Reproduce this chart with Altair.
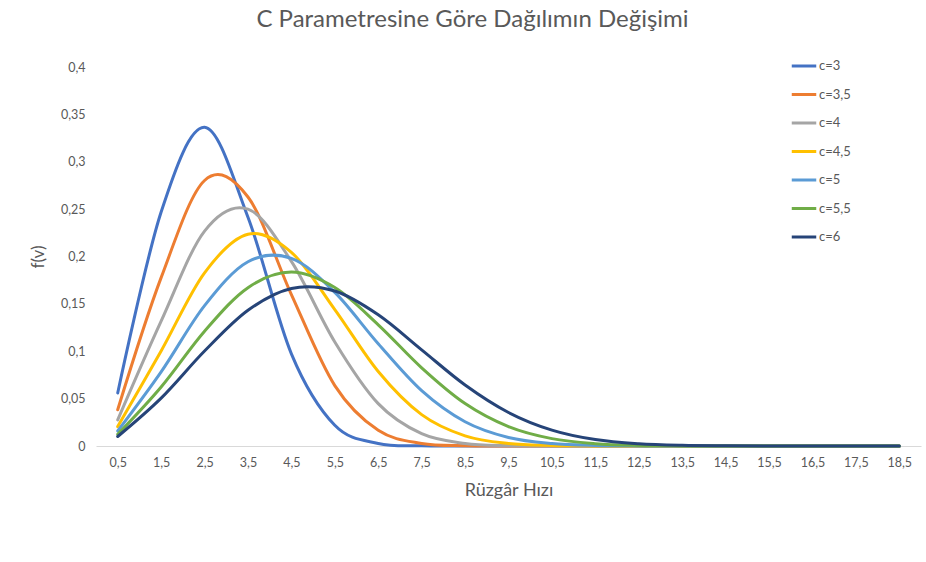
import altair as alt
import pandas as pd

# Wind speed categories (m/s)
speeds = [0.5, 1.5, 2.5, 3.5, 4.5, 5.5, 6.5, 7.5, 8.5, 9.5,
          10.5, 11.5, 12.5, 13.5, 14.5, 15.5, 16.5, 17.5, 18.5]

series_names = ["c=3", "c=3,5", "c=4", "c=4,5", "c=5", "c=5,5", "c=6"]
series_colors = ["#4472C4", "#ED7D31", "#A5A5A5", "#FFC000",
                 "#5B9BD5", "#70AD47", "#264478"]

# f(v) values per series
f_c3 = [0.0560, 0.2469, 0.3363, 0.2414, 0.0973, 0.0219, 0.0027, 0.0002,
        0.0, 0.0, 0.0, 0.0, 0.0, 0.0, 0.0, 0.0, 0.0, 0.0, 0.0]
f_c35 = [0.0383, 0.1777, 0.2802, 0.2628, 0.1598, 0.0637, 0.0165, 0.0027,
         0.0003, 0.0, 0.0, 0.0, 0.0, 0.0, 0.0, 0.0, 0.0, 0.0, 0.0]
f_c4 = [0.0275, 0.1317, 0.2268, 0.2500, 0.1948, 0.1098, 0.0447, 0.0130,
        0.0027, 0.0004, 0.0, 0.0, 0.0, 0.0, 0.0, 0.0, 0.0, 0.0, 0.0]
f_c45 = [0.0205, 0.1003, 0.1828, 0.2235, 0.2044, 0.1440, 0.0786, 0.0331,
         0.0107, 0.0026, 0.0005, 0.0001, 0.0, 0.0, 0.0, 0.0, 0.0, 0.0, 0.0]
f_c5 = [0.0158, 0.0782, 0.1481, 0.1944, 0.1980, 0.1621, 0.1079, 0.0584,
        0.0256, 0.0090, 0.0026, 0.0006, 0.0001, 0.0, 0.0, 0.0, 0.0, 0.0, 0.0]
f_c55 = [0.0124, 0.0623, 0.1212, 0.1671, 0.1836, 0.1672, 0.1279, 0.0825,
         0.0448, 0.0205, 0.0078, 0.0025, 0.0006, 0.0001, 0.0, 0.0, 0.0, 0.0, 0.0]
f_c6 = [0.0100, 0.0505, 0.1002, 0.1432, 0.1663, 0.1636, 0.1385, 0.1015,
        0.0644, 0.0354, 0.0168, 0.0068, 0.0024, 0.0007, 0.0002, 0.0, 0.0, 0.0, 0.0]

all_series = [f_c3, f_c35, f_c4, f_c45, f_c5, f_c55, f_c6]

rows = []
for name, values in zip(series_names, all_series):
    for v, f in zip(speeds, values):
        rows.append({"v": v, "f": f, "seri": name})
df = pd.DataFrame(rows)

FONT = "Lato"
GREY = "#595959"

chart = alt.Chart(df).mark_line(
    interpolate="cardinal", strokeWidth=3, strokeCap="round"
).encode(
    x=alt.X(
        "v:Q",
        scale=alt.Scale(domain=[0, 19], nice=False, zero=False),
        axis=alt.Axis(
            title="Rüzgâr Hızı",
            values=speeds,
            labelExpr="replace(format(datum.value, '~g'), '.', ',')",
            grid=False, ticks=False,
            domainColor="#D9D9D9", domainWidth=1,
            labelFont=FONT, labelFontSize=12.5, labelColor=GREY,
            labelPadding=10,
            titleFont=FONT, titleFontSize=18, titleColor=GREY,
            titleFontWeight="normal", titlePadding=13,
        ),
    ),
    y=alt.Y(
        "f:Q",
        scale=alt.Scale(domain=[0, 0.4], nice=False),
        axis=alt.Axis(
            title="f(v)",
            values=[0, 0.05, 0.1, 0.15, 0.2, 0.25, 0.3, 0.35, 0.4],
            labelExpr="replace(format(datum.value, '~g'), '.', ',')",
            grid=False, ticks=False, domain=False,
            labelFont=FONT, labelFontSize=12.5, labelColor=GREY,
            labelPadding=11,
            titleFont=FONT, titleFontSize=17, titleColor=GREY,
            titleFontWeight="normal", titlePadding=13,
        ),
    ),
    color=alt.Color(
        "seri:N",
        sort=series_names,
        scale=alt.Scale(domain=series_names, range=series_colors),
        legend=alt.Legend(
            title=None,
            orient="none",
            legendX=694,
            legendY=-15,
            symbolType="stroke",
            symbolSize=600,
            symbolStrokeWidth=3,
            rowPadding=7.5,
            labelFont=FONT, labelFontSize=13, labelColor=GREY,
            labelOffset=1,
        ),
    ),
    order=alt.Order("seri:N"),
).properties(
    width=825,
    height=379,
    background="white",
    title=alt.TitleParams(
        "C Parametresine Göre Dağılımın Değişimi",
        font=FONT, fontSize=24, color=GREY, fontWeight="normal",
        anchor="middle", dx=-36, offset=20,
    ),
    autosize=alt.AutoSizeParams(type="none"),
    padding={"left": 96, "top": 67, "right": 5, "bottom": 116},
).configure_view(
    stroke=None
)

chart.save("out.html", embed_options={"renderer": "svg", "actions": False})
